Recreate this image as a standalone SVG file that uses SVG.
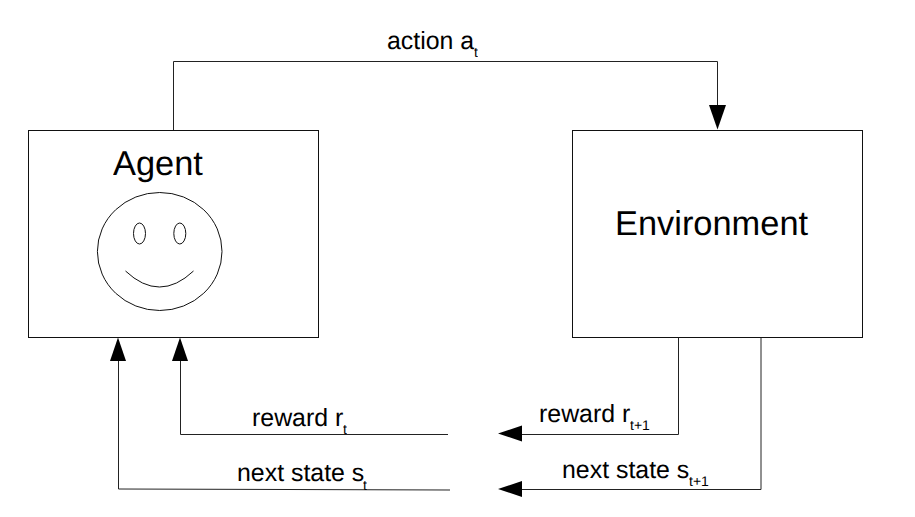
<svg xmlns="http://www.w3.org/2000/svg" width="915" height="517" viewBox="0 0 915 517">
<style>
text{font-family:"Liberation Sans",Arial,sans-serif;fill:#000;text-rendering:geometricPrecision;opacity:.995}
.box{fill:#fff;stroke:#111;stroke-width:1}
.face{fill:none;stroke:#111;stroke-width:1}
.c{fill:none;stroke:#222;stroke-width:1}
.h{fill:#000;stroke:none}
.l{font-size:24.9px}
.t{font-size:34.4px}
.s{font-size:14px}
</style>
<rect width="915" height="517" fill="#fff"/>
<g id="agent">
<rect class="box" x="28.500" y="130.500" width="290" height="207"/>
<text class="t" x="113" y="175">Agent</text>
<ellipse class="face" cx="159.700" cy="251.500" rx="62.300" ry="59"/>
<ellipse class="face" cx="139.500" cy="233.500" rx="6" ry="10.500"/>
<ellipse class="face" cx="179.800" cy="233.500" rx="6" ry="10.500"/>
<path class="face" d="M125.500 271 Q159.500 303 193.500 271"/>
</g>
<g id="environment">
<rect class="box" x="572.500" y="130.500" width="290" height="207"/>
<text class="t" x="615" y="234.500">Environment</text>
</g>
<g id="connectors">
<path class="c" d="M173.500 130V61.500H717.500V106"/>
<polygon class="h" points="709,105 726,105 717.500,129.500"/>
<path class="c" d="M678.500 337.500V434.500H522"/>
<polygon class="h" points="522,425.500 522,441.500 498,433.500"/>
<path class="c" d="M761 337.500V489.500H522"/>
<polygon class="h" points="522,481 522,497 498,489"/>
<path class="c" d="M448 434.500H180.500V360"/>
<polygon class="h" points="172,361 188,361 180,337.500"/>
<path class="c" d="M450 490L118.500 489V360"/>
<polygon class="h" points="110,361 126,361 118,337.500"/>
</g>
<g id="labels">
<text class="l" x="387" y="48.500">action a</text><text class="s" x="474" y="57">t</text>
<text class="l" x="252" y="425.500">reward r</text><text class="s" x="343" y="434">t</text>
<text class="l" x="237" y="480.500">next state s</text><text class="s" x="363" y="490">t</text>
<text class="l" x="539" y="421.500">reward r</text><text class="s" x="630" y="430">t+1</text>
<text class="l" x="562" y="477.500">next state s</text><text class="s" x="689" y="486">t+1</text>
</g>
</svg>
